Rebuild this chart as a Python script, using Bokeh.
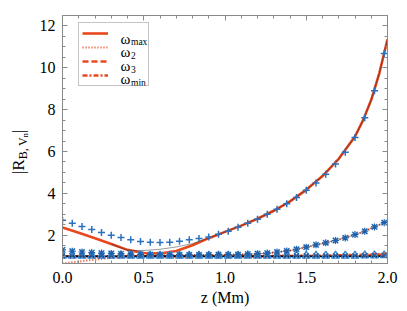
import math
from bokeh.plotting import figure
from bokeh.layouts import row
from bokeh.models import (Range1d, LinearAxis, FixedTicker, Legend, LegendItem, Label,
                          PrintfTickFormatter, Div)
from bokeh.embed import file_html
from bokeh.resources import INLINE

# ---------------- data ----------------
z_line = [0.0, 0.1, 0.2, 0.3, 0.4, 0.5, 0.6, 0.7, 0.8, 0.9, 1.0, 1.1, 1.2, 1.3,
          1.4, 1.5, 1.6, 1.7, 1.8, 1.85, 1.9, 1.95, 2.0]
omega_max = [2.37, 2.12, 1.86, 1.58, 1.30, 1.15, 1.13, 1.25, 1.52, 1.86, 2.16, 2.46,
             2.79, 3.17, 3.62, 4.17, 4.83, 5.65, 6.72, 7.50, 8.47, 9.75, 11.36]
omega_2 = [0.65, 0.74, 0.84, 0.93, 0.99, 1.02, 1.03, 1.04, 1.05, 1.05, 1.06, 1.08,
           1.11, 1.17, 1.27, 1.43, 1.61, 1.79, 2.03, 2.16, 2.33, 2.50, 2.67]
omega_3 = [1.00, 1.00, 1.00, 1.00, 1.00, 1.00, 1.00, 1.00, 1.00, 1.00, 1.00, 1.00,
           1.00, 1.00, 1.01, 1.01, 1.01, 1.02, 1.03, 1.04, 1.05, 1.07, 1.10]
omega_min = [1.00, 1.00, 1.00, 1.00, 1.00, 1.00, 1.00, 1.00, 1.00, 1.00, 1.00, 1.00,
             1.00, 1.01, 1.01, 1.02, 1.03, 1.04, 1.06, 1.07, 1.08, 1.10, 1.13]
# thin dark reference curves
omega_max_ref = [1.58, 1.28, 1.27, 1.33, 1.44, 1.60, 1.87, 2.16, 2.46, 2.79, 3.17,
                 3.62, 4.17, 4.83, 5.65, 6.72, 7.50, 8.47, 9.75, 11.36]   # z_line[3:]
unity = [1.0] * 23

z_mk = [0.0, 0.06, 0.12, 0.18, 0.24, 0.3, 0.36, 0.42, 0.48, 0.54, 0.6, 0.66, 0.72,
        0.78, 0.84, 0.9, 0.96, 1.02, 1.08, 1.14, 1.2, 1.26, 1.32, 1.38, 1.44, 1.5,
        1.56, 1.62, 1.68, 1.74, 1.8, 1.86, 1.92, 1.98]
plus_vals = [2.72, 2.57, 2.42, 2.27, 2.13, 2.00, 1.89, 1.78, 1.70, 1.66, 1.65, 1.67,
             1.71, 1.78, 1.84, 1.92, 2.05, 2.19, 2.38, 2.57, 2.77, 3.00, 3.24, 3.50,
             3.80, 4.15, 4.50, 4.92, 5.40, 5.97, 6.67, 7.61, 8.90, 10.69]
star_vals = [1.30, 1.24, 1.20, 1.17, 1.15, 1.13, 1.11, 1.10, 1.08, 1.07, 1.07, 1.06,
             1.06, 1.06, 1.06, 1.06, 1.07, 1.07, 1.08, 1.10, 1.12, 1.15, 1.20, 1.25,
             1.33, 1.43, 1.54, 1.64, 1.75, 1.87, 2.03, 2.19, 2.40, 2.60]
tri_vals = [1.02, 1.02, 1.02, 1.02, 1.02, 1.02, 1.02, 1.02, 1.02, 1.02, 1.02, 1.02,
            1.02, 1.02, 1.02, 1.02, 1.02, 1.02, 1.02, 1.02, 1.02, 1.02, 1.02, 1.02,
            1.02, 1.02, 1.02, 1.02, 1.02, 1.02, 1.02, 1.03, 1.03, 1.04]

x_ticks = [0.0, 0.5, 1.0, 1.5, 2.0]
x_minor = [0.1, 0.2, 0.3, 0.4, 0.6, 0.7, 0.8, 0.9, 1.1, 1.2, 1.3, 1.4, 1.6, 1.7, 1.8, 1.9]
y_ticks = [2, 4, 6, 8, 10, 12]
y_minor = [1.0, 1.5, 2.5, 3.0, 3.5, 4.5, 5.0, 5.5, 6.5, 7.0, 7.5, 8.5, 9.0, 9.5,
           10.5, 11.0, 11.5]

legend_labels = ["max", "2", "3", "min"]

# ---------------- style ----------------
RED = "#e9481f"
BLUE = "#1e62ae"
LBLUE = "#6fa8dc"
GRAY = "#8a8a8a"
FONT = "Liberation Serif"

p = figure(width=377, height=311, output_backend="svg", toolbar_location=None,
           x_range=Range1d(0, 2), y_range=Range1d(0.65, 12.5),
           min_border_left=32, min_border_right=20, min_border_top=15,
           min_border_bottom=48, background_fill_color="white",
           border_fill_color="white")
p.xgrid.visible = False
p.ygrid.visible = False
p.outline_line_color = GRAY

def style_axis(ax, labels=True):
    ax.axis_line_color = GRAY
    ax.major_tick_line_color = GRAY
    ax.minor_tick_line_color = GRAY
    ax.major_tick_in = 5
    ax.major_tick_out = 0
    ax.minor_tick_in = 3
    ax.minor_tick_out = 0
    ax.major_label_text_font = FONT
    ax.major_label_text_color = "black"
    if labels:
        ax.major_label_text_font_size = "16px"
    else:
        ax.major_label_text_font_size = "1px"
        ax.major_label_standoff = 0

xax = p.xaxis[0]
yax = p.yaxis[0]
xax.ticker = FixedTicker(ticks=x_ticks, minor_ticks=x_minor)
yax.ticker = FixedTicker(ticks=y_ticks, minor_ticks=y_minor)
xax.formatter = PrintfTickFormatter(format="%.1f")
style_axis(xax)
style_axis(yax)
xax.major_label_standoff = 8
yax.major_label_standoff = 7
xax.axis_label = "z (Mm)"
xax.axis_label_text_font = FONT
xax.axis_label_text_font_size = "16px"
xax.axis_label_text_font_style = "normal"
xax.axis_label_text_color = "black"
xax.axis_label_standoff = 3

top_ax = LinearAxis(ticker=FixedTicker(ticks=x_ticks, minor_ticks=x_minor),
                    major_label_overrides={t: "" for t in x_ticks})
right_ax = LinearAxis(ticker=FixedTicker(ticks=y_ticks, minor_ticks=y_minor),
                      major_label_overrides={t: "" for t in y_ticks})
style_axis(top_ax, labels=False)
style_axis(right_ax, labels=False)
p.add_layout(top_ax, "above")
p.add_layout(right_ax, "right")

# ---------------- lines ----------------
r_min = p.line(z_line, omega_min, color=RED, line_width=2.5, line_dash="5 2 2 2")
r_3 = p.line(z_line, omega_3, color=RED, line_width=2.5, line_dash="6 3")
r_2 = p.line(z_line, omega_2, color=RED, line_width=2.2, line_dash="1 2")
r_max = p.line(z_line, omega_max, color=RED, line_width=2.6)

p.line(z_line[3:], omega_max_ref, color="#222222", line_width=1.0, line_alpha=0.45)
p.line(z_line[5:], omega_2[5:], color="#222222", line_width=1.0, line_alpha=0.45)
p.line(z_line, unity, color="black", line_width=1.6)

# ---------------- markers ----------------
p.scatter(z_mk, tri_vals, marker="triangle", size=8, line_color="#3a86d0",
          fill_color=None, line_width=1.3)
p.scatter(z_mk, tri_vals, marker="x", size=7, line_color=BLUE, line_width=1.3)
p.scatter(z_mk, star_vals, marker="x", size=8, line_color=LBLUE, line_width=1.5)
p.scatter(z_mk, star_vals, marker="asterisk", size=7, line_color=BLUE, line_width=1.2)
p.scatter(z_mk, plus_vals, marker="cross", size=7, line_color="#2a72c0", line_width=1.5)

# ---------------- legend ----------------
legend = Legend(items=[LegendItem(label=" ", renderers=[r_max]),
                       LegendItem(label=" ", renderers=[r_2]),
                       LegendItem(label=" ", renderers=[r_3]),
                       LegendItem(label=" ", renderers=[r_min])],
                location=(16, 177), orientation="vertical",
                glyph_width=26, glyph_height=14, label_height=14, label_width=29,
                label_standoff=8, padding=3, spacing=0, margin=0,
                label_text_font_size="8px",
                border_line_color=GRAY, border_line_width=1,
                background_fill_alpha=0.0)
p.add_layout(legend, "center")

for i, sub in enumerate(legend_labels):
    base = 225 - 13.5 * i
    p.add_layout(Label(x=58, y=base, x_units="screen", y_units="screen", text="ω",
                       text_font=FONT, text_font_size="15px", text_color="black",
                       text_baseline="alphabetic"))
    p.add_layout(Label(x=68.5, y=base - 3.5, x_units="screen", y_units="screen",
                       text=sub, text_font=FONT, text_font_size="9.5px",
                       text_color="black", text_baseline="alphabetic"))

# ---------------- y title as rotated HTML text ----------------
ylabel_html = (
    '<div style="display:inline-block; white-space:nowrap; line-height:1;'
    ' font-family:\'Liberation Serif\', serif; font-size:17px; color:black;'
    ' transform-origin:50% 50%;'
    ' transform:translate(20px, 152px) translate(-50%, -50%) rotate(-90deg);">'
    '|R<sub style="font-size:12px; vertical-align:-0.25em;">B,&#8201;V'
    '<sub style="font-size:8px; vertical-align:-0.2em;">n</sub></sub>|</div>'
)
ydiv = Div(text=ylabel_html, width=30, height=311,
           styles={"overflow": "visible", "margin": "0", "padding": "0"})

layout = row(ydiv, p, spacing=0)
open("out.html", "w").write(file_html(layout, INLINE))
